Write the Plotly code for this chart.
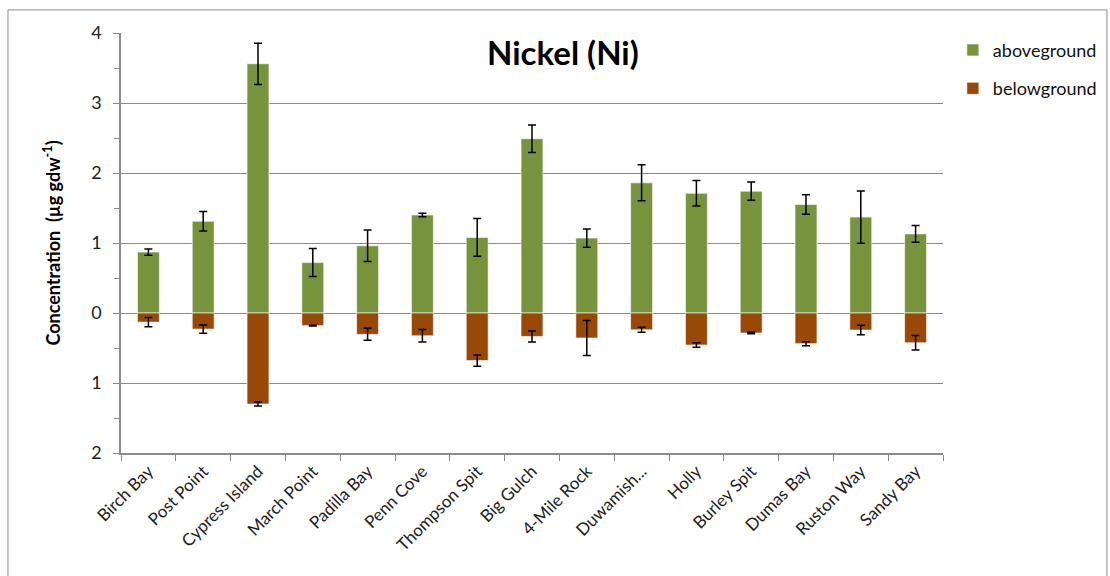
import plotly.graph_objects as go

sites = ["Birch Bay", "Post Point", "Cypress Island", "March Point", "Padilla Bay",
         "Penn Cove", "Thompson Spit", "Big Gulch", "4-Mile Rock", "Duwamish...",
         "Holly", "Burley Spit", "Dumas Bay", "Ruston Way", "Sandy Bay"]

above = [0.87, 1.31, 3.56, 0.72, 0.96, 1.40, 1.08, 2.49, 1.07, 1.86,
         1.71, 1.74, 1.55, 1.37, 1.13]
above_err = [0.045, 0.14, 0.295, 0.20, 0.225, 0.024, 0.27, 0.197, 0.131, 0.257,
             0.183, 0.131, 0.14, 0.374, 0.121]

below = [0.13, 0.23, 1.30, 0.18, 0.305, 0.325, 0.68, 0.335, 0.357, 0.24,
         0.457, 0.286, 0.438, 0.243, 0.425]
below_err = [0.066, 0.06, 0.03, 0.006, 0.086, 0.088, 0.081, 0.079, 0.25, 0.036,
             0.031, 0.01, 0.029, 0.069, 0.102]

y_ticks = [-2, -1, 0, 1, 2, 3, 4]
y_tick_text = ["2", "1", "0", "1", "2", "3", "4"]

GREEN = "#77933C"
BROWN = "#984807"
GRID = "#8C8C8C"
FONT = "Lato, Carlito, 'Open Sans', sans-serif"

err_style = dict(type="data", visible=True, color="black", thickness=1.5, width=4)

fig = go.Figure()
fig.add_trace(go.Bar(
    x=sites, y=above, name="aboveground", legendgroup="a",
    marker=dict(color=GREEN, line=dict(color="rgba(255,255,255,0.6)", width=1)),
    error_y=dict(array=above_err, **err_style),
))
fig.add_trace(go.Bar(
    x=sites, y=[-v for v in below], name="belowground", legendgroup="b",
    marker=dict(color=BROWN, line=dict(color="rgba(255,255,255,0.6)", width=1)),
    error_y=dict(array=below_err, **err_style),
))

fig.update_layout(
    width=1110, height=576,
    margin=dict(l=121, r=167, t=33, b=123, autoexpand=False),
    barmode="relative", bargap=0.6,
    plot_bgcolor="white", paper_bgcolor="white",
    font=dict(family=FONT, color="#222222", size=15),
    showlegend=True,
    legend=dict(x=1.012, y=1.003, xanchor="left", yanchor="top",
                font=dict(size=18, color="#111111"), traceorder="grouped",
                tracegroupgap=12, itemwidth=30, bgcolor="rgba(0,0,0,0)"),
    shapes=[dict(type="rect", xref="paper", yref="paper",
                 x0=-0.1375, x1=1.1995, y0=-0.5, y1=1.055,
                 line=dict(color="#8C8C8C", width=1), layer="below")],
    annotations=[dict(text="<b>Nickel (Ni)</b>", xref="paper", yref="paper",
                      x=0.538, y=0.955, xanchor="center", yanchor="middle",
                      showarrow=False, font=dict(size=33, color="black", family=FONT))],
)

fig.update_xaxes(
    showline=True, linecolor=GRID, linewidth=1.5,
    ticks="outside", tickson="boundaries", ticklen=6, tickcolor=GRID,
    tickangle=-45, tickfont=dict(size=17, color="#222222"),
    showgrid=False,
)
fig.update_yaxes(
    range=[-2, 4], tickvals=y_ticks, ticktext=y_tick_text,
    showline=True, linecolor=GRID, linewidth=1.5,
    ticks="outside", ticklen=6, tickcolor=GRID, ticklabelstandoff=8,
    minor=dict(ticks="outside", dtick=0.5, ticklen=5, tickcolor=GRID, showgrid=False),
    showgrid=True, gridcolor=GRID, gridwidth=1.2,
    zeroline=True, zerolinecolor=GRID, zerolinewidth=1.2,
    tickfont=dict(size=18, color="#222222"),
    title=dict(text="<b>Concentration  (µg gdw<sup>-1</sup>)</b>",
               font=dict(size=18, color="black"), standoff=26),
)

fig.write_html("out.html")
